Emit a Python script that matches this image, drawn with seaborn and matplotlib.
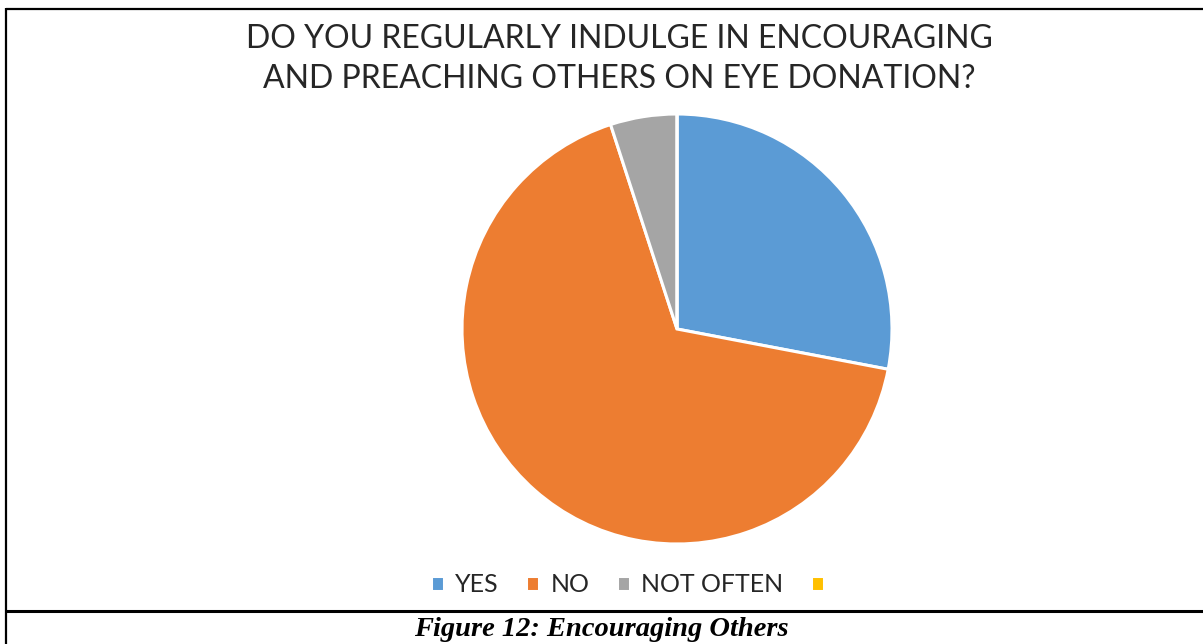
import matplotlib
matplotlib.use("Agg")
import matplotlib.pyplot as plt
from matplotlib.lines import Line2D
import seaborn as sns

sns.set_theme(style="white")
plt.rcParams["font.family"] = ["Lato", "DejaVu Sans"]

# Survey responses (percent of respondents)
categories = ["YES", "NO", "NOT OFTEN", ""]
shares = [28, 67, 5, 0]
colors = ["#5B9BD5", "#ED7D31", "#A5A5A5", "#FFC000"]

title = "DO YOU REGULARLY INDULGE IN ENCOURAGING\nAND PREACHING OTHERS ON EYE DONATION?"
caption = "Figure 12: Encouraging Others"

W, H = 1203, 644
fig = plt.figure(figsize=(W / 100, H / 100), dpi=100)
fig.patch.set_facecolor("white")

# pie axes: centre (677, 329) px, radius 215 px
cx, cy, r = 677, 329, 215
ax = fig.add_axes([(cx - r) / W, (H - cy - r) / H, 2 * r / W, 2 * r / H])
wedges, _ = ax.pie(
    shares,
    colors=colors,
    startangle=90,
    counterclock=False,
    radius=1.0,
    wedgeprops=dict(edgecolor="white", linewidth=2.2),
)
ax.set_xlim(-1, 1)
ax.set_ylim(-1, 1)
ax.set_aspect("equal")
ax.axis("off")

fig.text(619 / W, 1 - 59 / H, title, ha="center", va="center",
         fontsize=23, fontweight="normal", color="#262626", linespacing=1.45)

fig.legend(
    wedges, categories, loc="center", bbox_to_anchor=(633 / W, 1 - 585 / H),
    ncol=4, frameon=False, fontsize=18, handlelength=0.52, handleheight=0.52,
    handletextpad=0.45, columnspacing=1.1, labelcolor="#262626",
)

fig.text(601 / W, 1 - 630 / H, caption, ha="center", va="center",
         fontsize=20.5, fontweight="bold", fontstyle="italic",
         family=["Liberation Serif", "DejaVu Serif"], color="black")

# table borders around the chart and caption
def px_line(x0, y0, x1, y1, lw):
    fig.add_artist(Line2D([x0 / W, x1 / W], [1 - y0 / H, 1 - y1 / H],
                          transform=fig.transFigure, color="black",
                          linewidth=lw, solid_capstyle="butt"))

px_line(6, 9, W, 9, 1.6)
px_line(6, 8, 6, H, 1.6)
px_line(5, 611, W, 611, 2.2)

fig.savefig("out.png", dpi=100, facecolor="white")
